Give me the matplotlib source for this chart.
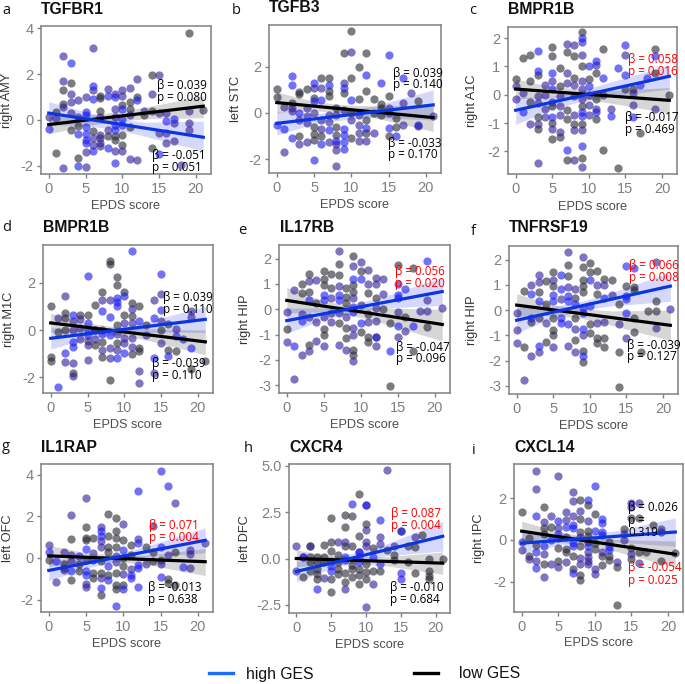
import matplotlib
matplotlib.use("Agg")
import matplotlib.pyplot as plt
import numpy as np

plt.rcParams['font.family'] = ['Liberation Sans', 'DejaVu Sans']
plt.rcParams['axes.unicode_minus'] = False

W = 685
H = 684

band_x = [0, 5, 9, 13, 21]
line_x = [0, 21]

# points as (EPDS score, value); "both" = high and low GES dots on top of each other
a_high = [(0,-.4),(3,2.5),(4,-2.0),(4,-.6),(5,.35),(5,.2),(5,-.3),(5,-.6),(5,-.85),(5,-1.0),(6,1.5),(6,.9),(6,-1.35),(8,1.05),(8,-1.2),(9,1.0),(9,-.2),(9,-.45),(9,-1.85),(10,.5),(10,.05),(10,-.2),(12,.85),(15,-1.5),(16,-.05),(17,.05)]
a_low = [(1,.35),(1,-1.45),(2,1.3),(2,.7),(3,1.6),(3,-.45),(4,-.25),(4,-1.65),(6,-.5),(7,1.05),(7,.95),(7,.4),(7,-.8),(8,-.7),(9,-.7),(9,-.85),(10,.65),(10,-.65),(10,-1.1),(11,.8),(11,.5),(11,-.3),(12,1.0),(13,.2),(14,1.95),(14,.4),(14,-1.2),(19,3.8),(21,.45)]
a_both = [(0,.15),(1,.1),(2,2.8),(2,1.7),(2,.55),(2,-2.1),(3,1.15),(3,.8),(3,.3),(4,.85),(4,.15),(5,1.0),(5,-1.4),(5,-2.05),(6,3.15),(6,1.3),(6,-.8),(6,-1.1),(7,.15),(7,-.65),(7,-1.0),(7,-1.15),(8,1.35),(8,-.45),(9,1.15),(9,.5),(9,.15),(9,-1.35),(10,1.3),(10,1.05),(10,-1.35),(11,1.4),(11,.2),(11,-1.7),(12,1.8),(12,-1.75),(13,.4),(14,1.15),(15,1.95),(15,.3),(15,-.55),(16,.3),(16,-.55),(16,-1.0),(17,-.15),(17,-.9),(18,-1.95),(19,.4),(19,-.15),(19,-.45)]
a_high_line = [.3, -.75]
a_low_line = [-.2, .6]
a_high_up = [.8, .35, .05, -.1, -.05]
a_high_lo = [-.2, -.25, -.4, -.7, -1.35]
a_low_up = [.15, .2, .35, .55, 1.05]
a_low_lo = [-.6, -.25, -.07, .05, .1]

b_high = [(0,-.5),(1,-.7),(2,1.6),(2,1.2),(2,-1.1),(3,0),(5,1.3),(5,.5),(5,-2.05),(6,.55),(6,-1.35),(7,1.2),(7,-.75),(8,-1.2),(9,1.1),(9,-.7),(9,-.95),(9,-1.25),(9,-1.55),(10,.55),(12,1.65),(12,-.65),(14,1.3),(15,2.5),(15,-.65),(16,-1.0),(17,1.5),(19,-.5)]
b_low = [(0,1.05),(0,.7),(2,.45),(3,.9),(3,.8),(3,-1.0),(4,1.05),(5,.65),(5,-.6),(5,-.9),(5,-1.15),(6,1.5),(6,-1.0),(7,1.5),(7,.95),(7,.75),(8,.2),(8,-.6),(8,-.95),(9,2.6),(9,.85),(10,3.55),(10,1.5),(10,0),(10,-1.1),(11,2.0),(11,.6),(12,2.6),(12,.95),(12,-.3),(12,-.85),(13,.6),(13,0),(14,.4),(14,.2),(14,-.1),(15,.75),(15,-1.0),(16,-.2),(16,-.6),(19,.5),(19,-.55)]
b_both = [(1,.25),(1,-1.7),(2,.2),(2,.1),(3,-.3),(3,-1.35),(4,.2),(4,-.15),(4,-.45),(4,-1.25),(5,1.1),(5,0),(6,1.1),(6,-.3),(6,-.7),(7,-.1),(7,-.4),(7,-1.25),(8,-.1),(8,-1.35),(8,-1.6),(8,-2.3),(9,1.3),(9,.15),(10,2.65),(10,-.3),(11,-.1),(11,-.5),(11,-.85),(11,-1.2),(12,-1.2),(13,-.85),(15,.2),(15,0),(17,.45),(17,-.5),(18,.85),(21,-.15)]
b_high_line = [-.45, .35]
b_low_line = [.45, -.2]
b_high_up = [.05, -.05, .1, .3, 1.0]
b_high_lo = [-.95, -.47, -.3, -.2, -.3]
b_low_up = [.9, .5, .35, .3, .35]
b_low_lo = [0, .1, 0, -.2, -.8]

c_high = [(1,-.6),(3,1.55),(3,.85),(5,.75),(5,.2),(5,-.8),(7,-1.95),(9,2.0),(9,1.85),(9,-.6),(9,-.75),(9,-1.8),(10,1.0),(10,.3),(11,1.2),(11,-.6),(12,.6),(13,-.75),(14,.95),(15,1.75),(15,.7),(16,-.8),(17,.35),(18,.6),(19,1.35)]
c_low = [(0,.55),(1,1.3),(2,1.4),(2,.5),(2,-.25),(3,.7),(3,-.8),(3,-1.2),(5,1.7),(5,1.35),(5,-.4),(5,-1.0),(5,-1.55),(6,.95),(6,.3),(6,-1.5),(7,1.5),(7,-.55),(7,-.85),(7,-2.3),(8,1.35),(8,.6),(8,-1.05),(9,2.2),(9,1.0),(9,-.4),(9,-1.05),(9,-2.25),(10,.55),(11,.75),(11,-.15),(11,-.85),(12,1.6),(12,-1.95),(14,-2.6),(15,.2),(16,.2),(17,-1.35),(19,1.6),(19,.75),(21,0)]
c_both = [(0,.3),(0,-.15),(1,.05),(2,-1.05),(3,-.05),(3,-.3),(3,-1.05),(3,-2.4),(4,.35),(4,0),(4,-.5),(4,-.8),(5,.5),(5,-.25),(5,-1.2),(6,-.05),(6,-.4),(6,-.7),(6,-1.3),(7,1.8),(7,.75),(7,.4),(8,1.75),(8,.35),(8,-.05),(8,-.7),(8,-1.25),(8,-2.3),(9,1.4),(9,.5),(9,.2),(9,-.15),(9,-1.25),(9,-2.55),(10,0),(10,-.35),(10,-.7),(11,1.05),(11,-.5),(12,0),(13,-.5),(15,1.4),(16,-.35),(16,.05),(19,-.5)]
c_high_line = [-.55, .65]
c_low_line = [.2, -.2]
c_high_up = [-.1, -.05, .15, .45, 1.05]
c_high_lo = [-1.05, -.5, -.23, -.05, .2]
c_low_up = [.55, .28, .2, .15, .25]
c_low_lo = [-.15, -.08, -.13, -.3, -.65]

d_high = [(1,-2.4),(2,-.95),(3,.65),(3,-.5),(3,-.7),(5,2.3),(5,.3),(5,0),(5,-.2),(7,.8),(7,-.15),(8,.55),(8,-.2),(9,1.35),(9,1.2),(9,1.0),(9,-1.2),(10,1.45),(10,-.95),(11,3.35),(12,.4),(14,.5),(14,-1.2),(15,2.35),(15,.85),(16,-1.1),(17,-.25),(18,-.4),(19,-.75)]
d_low = [(0,1.0),(0,-1.15),(0,-1.3),(1,-.1),(2,.7),(2,.5),(2,0),(3,-1.8),(4,.65),(5,.65),(5,-.45),(6,1.05),(6,0),(6,-.65),(7,1.6),(7,-.5),(7,-1.15),(8,2.9),(8,2.8),(8,-2.1),(9,2.25),(9,1.9),(9,.2),(9,-.55),(10,1.6),(10,.65),(11,1.15),(11,.6),(11,-1.0),(12,1.0),(12,-.75),(12,-.9),(13,.2),(15,0),(16,.25),(16,-.85),(17,-.9),(19,-1.65),(21,-1.3)]
d_both = [(1,.5),(2,1.45),(2,-1.35),(3,.4),(3,0),(3,-1.4),(3,-1.95),(4,.45),(4,.1),(4,-.4),(5,-.65),(5,-1.25),(6,-.4),(6,0),(7,1.25),(7,0),(7,-.85),(8,1.25),(8,-.75),(8,-1.2),(9,-.15),(9,-.85),(10,.3),(10,-.35),(10,-.55),(11,.9),(11,.3),(11,-.35),(11,-.7),(12,-1.75),(12,-2.25),(13,-.2),(14,1.25),(14,-1.8),(15,1.5),(15,.4),(15,-.55),(17,.05),(19,.8),(19,.55)]
d_high_line = [-.35, .45]
d_low_line = [.3, -.5]
d_high_up = [.1, .05, .12, .35, 1.0]
d_high_lo = [-.8, -.37, -.2, -.1, -.1]
d_low_up = [.7, .3, .12, .05, 0]
d_low_lo = [-.1, -.1, -.2, -.42, -1.05]

e_high = [(1,-1.45),(2,-.45),(3,.35),(5,.55),(5,.35),(7,.55),(7,.35),(9,1.2),(9,.1),(9,-.1),(10,1.2),(10,-.55),(12,-1.1),(14,-1.65),(15,1.0),(15,.55),(15,.45),(15,-.65),(16,.8),(17,-.65),(19,1.9)]
e_low = [(0,-.8),(2,1.0),(2,.65),(3,1.4),(3,.7),(3,-1.4),(4,.25),(5,1.5),(5,1.2),(5,.95),(5,-.8),(5,-1.0),(6,1.4),(6,.85),(7,1.8),(7,1.35),(7,-.55),(8,.85),(8,.5),(8,.25),(8,-.75),(8,-1.15),(9,2.1),(9,.95),(9,.7),(9,-1.6),(9,-1.8),(10,1.5),(10,-.9),(11,.65),(11,-.2),(11,-1.1),(11,-1.3),(12,.45),(12,-1.1),(13,0),(14,-.55),(14,-3.05),(15,1.75),(16,-.3),(17,1.65),(17,-1.65),(19,-.7)]
e_both = [(0,-.1),(0,-1.3),(1,.75),(1,-2.75),(2,-.2),(2,-1.8),(3,1.1),(3,-.3),(3,-1.65),(4,1.15),(4,-.5),(4,-1.25),(5,-.3),(5,-1.45),(6,.45),(6,-.15),(6,-.5),(7,2.3),(7,.9),(7,-.15),(7,-1.4),(8,-.3),(8,-1.6),(9,1.7),(9,.45),(9,-.75),(9,-1.0),(9,-2.05),(10,1.85),(10,.15),(11,1.55),(11,1.0),(11,-.5),(12,1.25),(12,1.0),(12,.05),(12,-.45),(12,-1.45),(13,1.2),(13,.6),(15,-.1),(15,-1.1),(16,-.85),(18,-.05),(19,.35),(19,-.05),(21,.05)]
e_high_line = [-.45, .7]
e_low_line = [.35, -.6]
e_high_up = [.05, .05, .2, .5, 1.25]
e_high_lo = [-.95, -.4, -.13, .05, .15]
e_low_up = [.85, .33, .13, .05, 0]
e_low_lo = [-.15, -.1, -.25, -.55, -1.25]

f_high = [(2,.65),(2,-.3),(3,.35),(3,-1.4),(5,.6),(5,.35),(6,1.4),(6,.85),(6,-.3),(6,-.5),(7,.55),(7,.35),(7,-.55),(8,.25),(9,.1),(9,-.1),(9,-.75),(9,-1.8),(10,1.2),(10,.15),(12,.5),(15,1.75),(15,.55),(15,.45),(15,-.1),(16,1.65)]
f_low = [(1,.75),(1,-1.45),(2,-.45),(3,.7),(3,-.3),(4,1.15),(4,.25),(4,-1.25),(5,1.5),(5,.95),(5,-.3),(5,-.8),(5,-1.0),(7,1.8),(7,1.35),(8,.5),(8,-.3),(8,-1.2),(9,1.7),(9,1.2),(9,.95),(9,.7),(9,-1.6),(9,-2.05),(10,1.85),(10,1.5),(10,-.55),(10,-.9),(11,1.55),(11,.65),(11,-1.1),(11,-1.3),(12,1.25),(12,-1.1),(12,-1.45),(13,1.2),(14,.25),(14,-1.65),(14,-3.05),(15,.95),(16,.9),(16,.8),(16,-.3),(16,-.85),(17,-1.65),(18,-.05),(19,.35),(19,-.05)]
f_both = [(0,-.1),(0,-.8),(0,-1.3),(1,-2.75),(2,1.0),(2,-1.8),(3,1.4),(3,1.1),(3,-1.65),(4,-.5),(5,1.2),(5,-1.45),(6,.45),(7,2.3),(7,.9),(7,-1.4),(8,.85),(8,-.75),(8,-1.65),(9,2.1),(9,-1.0),(11,1.0),(11,-.5),(12,1.0),(12,-.45),(13,.6),(14,-.55),(15,-1.1),(19,1.9),(19,-.7),(21,.05)]
f_high_line = [-.4, .95]
f_low_line = [.2, -.6]
f_high_up = [.1, .15, .35, .7, 1.5]
f_high_lo = [-.9, -.3, 0, .17, .35]
f_low_up = [.65, .2, .05, -.03, 0]
f_low_lo = [-.25, -.2, -.33, -.6, -1.2]

g_high = [(0,.3),(1,-.15),(3,-.65),(4,.1),(5,.45),(5,-.65),(5,-.8),(6,-.1),(7,1.3),(7,1.05),(7,-1.45),(8,-.4),(8,-1.05),(9,-2.3),(10,.4),(10,-1.5),(11,-.8),(11,-.95),(12,3.2),(12,.7),(12,-.35),(12,-.5),(12,-1.4),(15,4.2),(15,.55),(15,-.9),(16,3.45),(18,-.45)]
g_low = [(0,-.1),(2,-.3),(2,-.5),(3,.9),(3,-1.05),(4,-.3),(4,-.65),(5,1.5),(5,.95),(5,.85),(6,.95),(6,-.7),(6,-.95),(7,-.15),(7,-.7),(7,-1.8),(8,2.1),(8,1.05),(8,.55),(8,.3),(8,-.8),(9,1.9),(9,1.3),(9,.95),(9,.55),(9,-.7),(9,-1.3),(9,-1.5),(10,.85),(10,0),(10,-.4),(10,-1.3),(11,.6),(11,.15),(13,.55),(14,.3),(14,-.15),(15,-.1),(16,-1.0),(16,-1.2),(17,.3),(17,-1.3)]
g_both = [(0,.6),(1,-1.15),(2,.3),(2,-.6),(3,2.05),(3,.15),(3,-.15),(5,2.9),(5,-.1),(5,-1.25),(5,-1.4),(6,.25),(7,1.5),(7,.8),(7,.55),(7,-.95),(9,.1),(9,-.2),(10,1.65),(10,-.75),(11,-.55),(12,.9),(13,-.3),(14,1.55),(15,-.3),(16,.15),(17,2.65),(19,.4),(19,.2),(19,-.5),(21,.7)]
g_high_line = [-.6, .85]
g_low_line = [.1, -.18]
g_high_up = [-.1, 0, .2, .55, 1.45]
g_high_lo = [-1.1, -.5, -.15, .05, .25]
g_low_up = [.6, .25, .15, .13, .45]
g_low_lo = [-.4, -.2, -.2, -.3, -.85]

h_high = [(1,.1),(3,-1.65),(5,-.15),(5,-.4),(5,-.65),(7,.1),(7,-.1),(8,2.95),(9,.35),(9,.1),(9,-.2),(10,2.9),(11,.1),(12,2.1),(12,-.3),(15,1.5),(15,-.8),(15,-1.1)]
h_low = [(1,-1.0),(2,.7),(2,.1),(2,-.2),(2,-.65),(3,.1),(3,-.2),(3,-.55),(3,-.85),(3,-1.1),(4,.75),(4,.1),(4,-.2),(5,2.2),(5,.9),(5,.4),(5,-1.1),(5,-1.8),(6,.2),(6,-.2),(6,-.55),(6,-.85),(7,2.35),(7,1.7),(7,.65),(7,-.8),(7,-1.25),(8,2.3),(8,.7),(8,-.35),(8,-.55),(8,-1.0),(9,3.5),(9,1.2),(9,-.55),(9,-.9),(9,-1.4),(10,1.85),(10,-.3),(10,-.75),(10,-1.1),(11,.55),(11,-.65),(12,-.7),(13,.45),(14,.2),(14,-.1),(15,1.5),(16,.7),(16,-.2),(17,.6),(17,-.8),(18,1.25),(19,0),(19,-.7),(19,-.95),(19,-1.1),(21,0)]
h_both = [(0,.7),(0,-.7),(1,.1),(2,.7),(4,-1.05),(6,.9),(7,.9),(7,-1.65),(9,.35),(10,2.9),(10,1.55),(10,.9),(10,.65),(10,-2.6),(11,-1.4),(12,1.15),(12,.8),(13,4.75),(14,.7),(17,1.15)]
h_high_line = [-.7, 1.2]
h_low_line = [0, -.25]
h_high_up = [-.15, .05, .35, .8, 2.0]
h_high_lo = [-1.25, -.55, -.15, .15, .4]
h_low_up = [.45, .17, .08, .1, .35]
h_low_lo = [-.45, -.28, -.28, -.4, -.85]

i_high = [(2,1.15),(2,-.55),(2,-1.35),(3,-.3),(4,0),(5,.9),(5,.3),(5,.1),(6,.6),(7,.7),(7,.55),(7,-.15),(7,-.3),(7,-1.55),(9,1.9),(9,-.3),(10,2.55),(10,.45),(11,1.0),(11,.8),(11,.4),(11,.25),(12,-.35),(12,-.5)]
i_low = [(0,1.35),(1,.1),(1,-.75),(2,-.25),(3,1.55),(3,.55),(3,.3),(3,-1.15),(4,.6),(5,-.4),(5,-1.0),(6,.15),(6,-.45),(6,-.55),(7,-.75),(7,-1.4),(8,1.9),(8,1.0),(8,.4),(8,-.3),(8,-1.65),(8,-1.9),(9,1.65),(9,.45),(9,.2),(9,-.1),(10,1.25),(10,-.15),(10,-.45),(11,-.75),(11,-1.2),(12,-.1),(12,-.75),(12,-.95),(13,-1.3),(13,-3.1),(14,.5),(15,1.05),(15,-.4),(15,-.9),(16,1.05),(16,-.55),(17,-.55),(18,.7),(19,.4),(19,-1.0),(21,-.6)]
i_both = [(0,-.1),(0,-.5),(1,-.9),(2,3.3),(2,2.45),(2,-1.0),(3,.85),(3,-.65),(3,-1.75),(4,1.15),(4,-1.15),(5,3.05),(5,.55),(5,-1.3),(6,1.35),(6,.95),(6,-1.05),(7,2.3),(7,1.85),(7,1.15),(8,1.4),(8,.15),(8,-.85),(8,-1.15),(9,.9),(9,-.55),(9,-.8),(9,-1.0),(9,-1.15),(10,-1.4),(10,-1.6),(11,-.55),(13,-1.05),(14,.3),(14,0),(15,1.75),(15,1.55),(15,-.65),(16,1.75),(16,-1.1),(19,.5)]
i_high_line = [-.15, .38]
i_low_line = [.42, -.68]
i_high_up = [.35, .2, .25, .45, 1.05]
i_high_lo = [-.65, -.25, -.1, -.1, -.3]
i_low_up = [.9, .4, .15, .02, -.05]
i_low_lo = [-.05, -.1, -.25, -.55, -1.3]

genes = ['TGFBR1', 'TGFB3', 'BMPR1B', 'BMPR1B', 'IL17RB', 'TNFRSF19', 'IL1RAP', 'CXCR4', 'CXCL14']
regions = ['right AMY', 'left STC', 'right A1C', 'right M1C', 'right HIP', 'right HIP', 'left OFC', 'left DFC', 'right IPC']
letters = ['a', 'b', 'c', 'd', 'e', 'f', 'g', 'h', 'i']
high_stats = [['β = 0.039', 'p = 0.080'], ['β = 0.039', 'p = 0.140'], ['β = 0.058', 'p = 0.016'],
              ['β = 0.039', 'p = 0.110'], ['β = 0.056', 'p = 0.020'], ['β = 0.066', 'p = 0.008'],
              ['β = 0.071', 'p = 0.004'], ['β = 0.087', 'p = 0.004'], ['β = 0.026', 'p =', '0.319']]
low_stats = [['β = -0.051', 'p = 0.051'], ['β = -0.033', 'p = 0.170'], ['β = -0.017', 'p = 0.469'],
             ['β = -0.039', 'p = 0.110'], ['β = -0.047', 'p = 0.096'], ['β = -0.039', 'p = 0.127'],
             ['β = -0.013', 'p = 0.638'], ['β = -0.010', 'p = 0.684'], ['β = -0.054', 'p = 0.025']]
y_ticks = [[-2, 0, 2, 4], [-2, 0, 2], [-2, -1, 0, 1, 2], [-2, 0, 2], [-3, -2, -1, 0, 1, 2],
           [-3, -2, -1, 0, 1, 2], [-2, 0, 2, 4], [-2.5, 0, 2.5, 5], [-2, 0, 2]]
y_lims = [(-2.35, 4.09), (-2.6, 3.81), (-2.8, 2.39), (-2.66, 3.59), (-3.31, 2.54),
          (-3.32, 2.54), (-2.6, 4.52), (-2.94, 5.1), (-3.43, 3.62)]

# left, right, top, bottom in pixels
boxes = [(41, 211, 26, 174), (269, 441, 25, 173), (508, 677, 27, 174),
         (43, 213, 245, 393), (279, 450, 245, 393), (509, 678, 246, 394),
         (41, 213, 464, 612), (289, 450, 464, 613), (514, 683, 464, 612)]
title_pos = [(41, 9), (269, 8), (508, 10), (43, 228), (280, 228), (509, 228), (41, 447), (289, 447), (514, 447)]
letter_pos = [(2, 10), (232, 11), (469, 11), (2, 228), (238, 230), (471, 231), (2, 446), (244, 449), (472, 451)]
high_pos = [(157, 86), (393, 73), (628, 60), (163, 298), (395, 272), (629, 266), (149, 526), (391, 513), (628, 508)]
low_pos = [(152, 155), (388, 143), (625, 117), (152, 363), (396, 347), (627, 345), (148, 588), (390, 588), (628, 568)]
high_red = [False, False, True, False, True, True, True, True, False]
low_red = [False, False, False, False, False, False, False, False, True]
line_gap = [12, 11.8, 12, 12, 11.8, 11.8, 11.8, 12, 12.5]
ylabel_x = [7, 236, 472, 9, 245, 472, 8, 245, 479]
xlabel_y = [206, 205, 207, 425, 425, 426, 644, 645, 643]

highs = [a_high, b_high, c_high, d_high, e_high, f_high, g_high, h_high, i_high]
lows = [a_low, b_low, c_low, d_low, e_low, f_low, g_low, h_low, i_low]
boths = [a_both, b_both, c_both, d_both, e_both, f_both, g_both, h_both, i_both]
high_lines = [a_high_line, b_high_line, c_high_line, d_high_line, e_high_line, f_high_line, g_high_line, h_high_line, i_high_line]
low_lines = [a_low_line, b_low_line, c_low_line, d_low_line, e_low_line, f_low_line, g_low_line, h_low_line, i_low_line]
high_ups = [a_high_up, b_high_up, c_high_up, d_high_up, e_high_up, f_high_up, g_high_up, h_high_up, i_high_up]
high_los = [a_high_lo, b_high_lo, c_high_lo, d_high_lo, e_high_lo, f_high_lo, g_high_lo, h_high_lo, i_high_lo]
low_ups = [a_low_up, b_low_up, c_low_up, d_low_up, e_low_up, f_low_up, g_low_up, h_low_up, i_low_up]
low_los = [a_low_lo, b_low_lo, c_low_lo, d_low_lo, e_low_lo, f_low_lo, g_low_lo, h_low_lo, i_low_lo]


def px_text(x, y, s, **kw):
    # place text by pixel position, y counted from the top
    fig.text(x / W, 1 - y / H, s, va='center', **kw)


def dots(ax, pts, color, alpha):
    pts = np.array(pts)
    ax.scatter(pts[:, 0], pts[:, 1], s=35, color=color, alpha=alpha, linewidths=0, zorder=3)


fig = plt.figure(figsize=(W / 100, H / 100), dpi=100)

for i in range(9):
    l, r, t, b = boxes[i]
    ax = fig.add_axes([l / W, 1 - b / H, (r - l) / W, (b - t) / H])
    ax.fill_between(band_x, high_los[i], high_ups[i], color='#3040e8', alpha=0.2, linewidth=0, zorder=1)
    ax.fill_between(band_x, low_los[i], low_ups[i], color='#333333', alpha=0.2, linewidth=0, zorder=1)
    dots(ax, lows[i], '#2a2a36', 0.62)
    dots(ax, boths[i], '#33209a', 0.62)
    dots(ax, highs[i], '#1c1cf2', 0.62)
    ax.plot(line_x, low_lines[i], color='black', lw=2.3, zorder=4)
    ax.plot(line_x, high_lines[i], color='#0a35e0', lw=2.3, zorder=5)
    ax.set_xlim(-1.05, 22.05)
    ax.set_ylim(y_lims[i])
    ax.set_xticks([0, 5, 10, 15, 20])
    ax.set_yticks(y_ticks[i])
    if i == 7:
        ax.set_yticklabels(['-2.5', '0.0', '2.5', '5.0'])
    ax.tick_params(colors='#808080', labelsize=10.5, length=3, width=1, pad=2.5)
    for s in ax.spines.values():
        s.set_color('#808080')
        s.set_linewidth(1.1)
    ax.set_xlabel('EPDS score', fontsize=9.2, color='#4d4d4d', va='center')
    ax.set_ylabel(regions[i], fontsize=9.2, color='#333333', va='center')
    ax.xaxis.set_label_coords(0.5, (b - xlabel_y[i]) / (b - t))
    ax.yaxis.set_label_coords((ylabel_x[i] - l) / (r - l), 0.5)

    px_text(title_pos[i][0], title_pos[i][1], genes[i], fontsize=11.3, fontweight='bold', color='#111111')
    px_text(letter_pos[i][0], letter_pos[i][1], letters[i], fontsize=10.5, family=['Open Sans', 'DejaVu Sans'], color='#111111')

    for k, s in enumerate(high_stats[i]):
        px_text(high_pos[i][0], high_pos[i][1] + k * line_gap[i], s, fontsize=8.4, family=['Open Sans', 'DejaVu Sans'],
                color='red' if high_red[i] else 'black', zorder=10)
    for k, s in enumerate(low_stats[i]):
        px_text(low_pos[i][0], low_pos[i][1] + k * line_gap[i], s, fontsize=8.4, family=['Open Sans', 'DejaVu Sans'],
                color='red' if low_red[i] else 'black', zorder=10)

# legend drawn by hand, sits apart from the panels
fig.add_artist(plt.Line2D([209 / W, 233 / W], [1 - 673 / H, 1 - 673 / H], color='#1a6bff', lw=2.4))
fig.add_artist(plt.Line2D([414 / W, 438 / W], [1 - 673 / H, 1 - 673 / H], color='black', lw=2.4))
px_text(246, 674, 'high GES', fontsize=11.3, color='#111111')
px_text(459, 674, 'low GES', fontsize=11.3, color='#111111')

fig.savefig('out.png', dpi=100)
